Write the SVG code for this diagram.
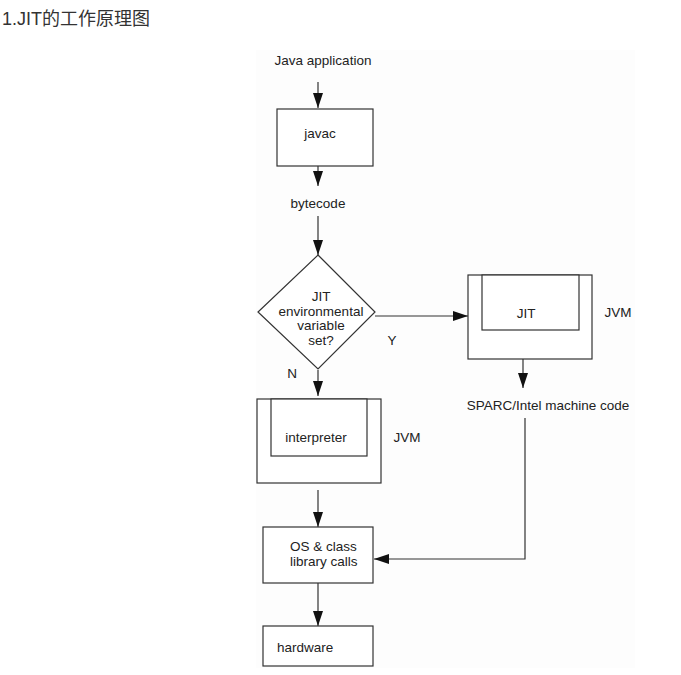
<svg xmlns="http://www.w3.org/2000/svg" width="681" height="675" viewBox="0 0 681 675">
<style>
.t{font-family:"Liberation Sans",Arial,sans-serif;font-size:13.5px;fill:#222}
.c{text-anchor:middle}
.b{fill:#fff;stroke:#333;stroke-width:1.2}
.l{fill:none;stroke:#333;stroke-width:1.2}
</style>
<defs>
<marker id="ah" viewBox="0 0 15 10" refX="15" refY="5" markerWidth="15" markerHeight="10" markerUnits="userSpaceOnUse" orient="auto">
<path d="M0,0 L15,5 L0,10 z" fill="#111"/>
</marker>
</defs>
<rect width="681" height="675" fill="#fff"/>
<text x="2" y="25" style="font-family:'Liberation Sans','Noto Sans CJK SC',sans-serif;font-size:18px;fill:#333">1.JIT的工作原理图</text>
<rect x="256" y="50" width="379" height="618" fill="#fdfdfd"/>
<g id="connectors">
<line class="l" x1="318" y1="82" x2="318" y2="108" marker-end="url(#ah)"/>
<line class="l" x1="318" y1="166" x2="318" y2="186" marker-end="url(#ah)"/>
<line class="l" x1="318" y1="216" x2="318" y2="255" marker-end="url(#ah)"/>
<line class="l" x1="318" y1="370" x2="318" y2="396" marker-end="url(#ah)"/>
<line class="l" x1="375" y1="316" x2="468" y2="316" marker-end="url(#ah)"/>
<line class="l" x1="523" y1="359" x2="523" y2="388" marker-end="url(#ah)"/>
<line class="l" x1="318" y1="490" x2="318" y2="527" marker-end="url(#ah)"/>
<polyline class="l" points="525,418 525,559 374,559" marker-end="url(#ah)"/>
<line class="l" x1="318" y1="583" x2="318" y2="626" marker-end="url(#ah)"/>
</g>
<g id="java-application"><text class="t c" x="323" y="65">Java application</text></g>
<g id="javac"><rect class="b" x="277" y="109" width="96" height="57"/><text class="t c" x="320" y="138">javac</text></g>
<g id="bytecode"><text class="t c" x="318" y="208">bytecode</text></g>
<g id="decision">
<polygon class="b" points="318,255 375,312 318,369 258,312"/>
<text class="t c" x="321" y="301">JIT</text>
<text class="t c" x="321" y="316">environmental</text>
<text class="t c" x="321" y="330">variable</text>
<text class="t c" x="321" y="345">set?</text>
</g>
<g id="label-y"><text class="t c" x="392" y="345">Y</text></g>
<g id="label-n"><text class="t c" x="292" y="378">N</text></g>
<g id="jvm-jit">
<rect class="b" x="468" y="275" width="124" height="84"/>
<rect class="b" x="482" y="275" width="97" height="55"/>
<text class="t c" x="526" y="318">JIT</text>
<text class="t c" x="618" y="317">JVM</text>
</g>
<g id="machine-code"><text class="t c" x="548" y="410">SPARC/Intel machine code</text></g>
<g id="jvm-interpreter">
<rect class="b" x="257" y="399" width="124" height="84"/>
<rect class="b" x="271" y="399" width="96" height="57"/>
<text class="t c" x="316" y="442">interpreter</text>
<text class="t c" x="407" y="442">JVM</text>
</g>
<g id="os-calls">
<rect class="b" x="263" y="527" width="110" height="56"/>
<text class="t" x="290" y="551">OS &amp; class</text>
<text class="t" x="290" y="566">library calls</text>
</g>
<g id="hardware">
<rect class="b" x="263" y="626" width="110" height="40"/>
<text class="t" x="277" y="652">hardware</text>
</g>
</svg>
